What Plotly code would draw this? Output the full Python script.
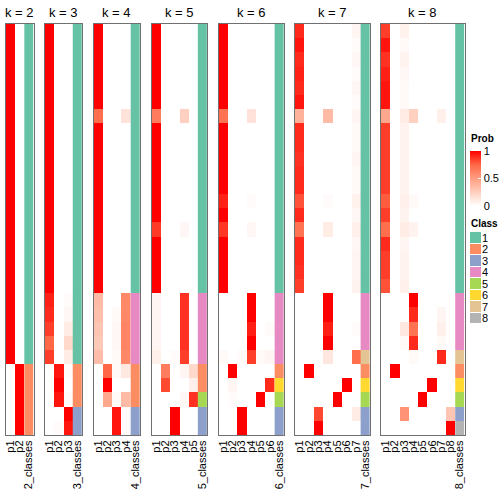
import plotly.graph_objects as go

W = H = 504
ks = [2, 3, 4, 5, 6, 7, 8]

# ---- probability matrices: 29 samples (rows) x k columns ----
prob2 = [
    [1, 0], [1, 0], [1, 0], [1, 0], [1, 0], [1, 0], [1, 0], [1, 0], [1, 0], [1, 0],
    [1, 0], [1, 0], [1, 0], [1, 0], [1, 0], [1, 0], [1, 0], [1, 0], [1, 0], [1, 0],
    [1, 0], [1, 0], [1, 0], [1, 0],
    [0, 1], [0, 1], [0, 1], [0, 1], [0, 1],
]
prob3 = [
    [1, 0, 0], [1, 0, 0], [1, 0, 0], [1, 0, 0], [1, 0, 0], [1, 0, 0], [1, 0, 0],
    [1, 0, 0], [1, 0, 0], [1, 0, 0], [1, 0, 0], [1, 0, 0], [1, 0, 0], [1, 0, 0],
    [1, 0, 0], [1, 0, 0], [1, 0, 0], [1, 0, 0], [1, 0, 0],
    [0.92, 0, 0.02], [0.9, 0, 0.04], [0.85, 0, 0.1], [0.75, 0, 0.2], [0.85, 0, 0.1],
    [0, 0.95, 0.02], [0, 1, 0], [0, 0.95, 0.02],
    [0, 0, 1], [0, 0.02, 0.95],
]
prob4 = [
    [1, 0, 0, 0], [1, 0, 0, 0], [1, 0, 0, 0], [1, 0, 0, 0], [1, 0, 0, 0], [1, 0, 0, 0],
    [0.72, 0, 0, 0.15],
    [1, 0, 0, 0], [1, 0, 0, 0], [1, 0, 0, 0], [1, 0, 0, 0], [1, 0, 0, 0], [1, 0, 0, 0],
    [1, 0, 0, 0], [1, 0, 0, 0], [1, 0, 0, 0], [1, 0, 0, 0], [1, 0, 0, 0], [1, 0, 0, 0],
    [0.35, 0, 0, 0.6], [0.33, 0, 0.03, 0.6], [0.3, 0, 0.04, 0.62], [0.28, 0, 0.04, 0.62],
    [0.34, 0, 0.03, 0.6],
    [0, 0.75, 0.03, 0.12], [0, 1, 0, 0], [0, 0.45, 0.03, 0.35],
    [0, 0, 0.95, 0.02], [0, 0, 0.95, 0.02],
]
prob5 = [
    [1, 0, 0, 0, 0], [1, 0, 0, 0, 0], [1, 0, 0, 0, 0], [1, 0, 0, 0, 0], [1, 0, 0, 0, 0],
    [1, 0, 0, 0, 0], [0.65, 0, 0, 0.25, 0],
    [1, 0, 0, 0, 0], [1, 0, 0, 0, 0], [1, 0, 0, 0, 0], [1, 0, 0, 0, 0], [1, 0, 0, 0, 0],
    [1, 0, 0, 0, 0], [1, 0, 0, 0, 0], [0.86, 0, 0, 0.04, 0],
    [1, 0, 0, 0, 0], [1, 0, 0, 0, 0], [1, 0, 0, 0, 0], [1, 0, 0, 0, 0],
    [0.05, 0, 0, 0.88, 0], [0.05, 0, 0, 0.88, 0], [0.05, 0, 0, 0.88, 0], [0.05, 0, 0, 0.88, 0],
    [0.08, 0, 0.02, 0.85, 0],
    [0, 0.65, 0, 0.05, 0.2], [0, 0.82, 0, 0, 0.08], [0, 0, 0, 0.04, 0.88],
    [0, 0, 1, 0, 0], [0, 0, 1, 0, 0],
]
prob6 = [
    [1, 0, 0, 0, 0, 0], [1, 0, 0, 0, 0, 0], [1, 0, 0, 0, 0, 0], [1, 0, 0, 0, 0, 0],
    [1, 0, 0, 0, 0, 0], [1, 0, 0, 0, 0, 0], [0.7, 0, 0, 0.15, 0, 0],
    [1, 0, 0, 0, 0, 0], [1, 0, 0, 0, 0, 0], [1, 0, 0, 0, 0, 0], [1, 0, 0, 0, 0, 0],
    [1, 0, 0, 0, 0, 0], [0.92, 0, 0, 0.02, 0, 0], [1, 0, 0, 0, 0, 0],
    [0.87, 0, 0, 0.04, 0, 0],
    [1, 0, 0, 0, 0, 0], [1, 0, 0, 0, 0, 0], [1, 0, 0, 0, 0, 0], [1, 0, 0, 0, 0, 0],
    [0, 0, 0, 1, 0, 0], [0, 0, 0, 1, 0, 0], [0, 0, 0, 0.93, 0, 0.02], [0, 0, 0, 1, 0, 0],
    [0.03, 0, 0.02, 0.85, 0.03, 0.05],
    [0, 1, 0, 0, 0, 0], [0, 0.05, 0, 0, 0, 0.9], [0, 0.02, 0, 0, 1, 0],
    [0, 0, 1, 0, 0, 0], [0, 0, 1, 0, 0, 0],
]
prob7 = [
    [0.9, 0, 0, 0, 0, 0, 0.05], [0.95, 0, 0, 0, 0, 0, 0.02], [0.9, 0, 0, 0, 0, 0, 0.04],
    [0.92, 0, 0, 0, 0, 0, 0.02], [0.9, 0, 0, 0, 0, 0, 0.04], [0.95, 0, 0, 0, 0, 0, 0.02],
    [0.4, 0, 0, 0.35, 0, 0, 0.05], [0.9, 0, 0, 0, 0, 0, 0.03], [0.9, 0, 0, 0, 0, 0, 0.03],
    [0.88, 0, 0, 0, 0, 0, 0.05], [0.9, 0, 0, 0, 0, 0, 0.03], [0.9, 0, 0, 0, 0, 0, 0.03],
    [0.8, 0, 0, 0.02, 0, 0, 0.07], [0.9, 0, 0, 0, 0, 0, 0.04], [0.7, 0, 0, 0.1, 0, 0, 0.08],
    [0.9, 0, 0, 0, 0, 0, 0.04], [0.9, 0, 0, 0, 0, 0, 0.05], [0.88, 0, 0, 0, 0, 0, 0.05],
    [0.85, 0, 0, 0, 0, 0, 0.06],
    [0, 0, 0, 1, 0, 0, 0], [0, 0, 0, 1, 0, 0, 0], [0, 0, 0, 0.93, 0, 0, 0.02],
    [0, 0, 0, 1, 0, 0, 0], [0, 0, 0, 0.13, 0, 0, 0.72],
    [0, 1, 0, 0, 0, 0, 0], [0, 0, 0, 0, 0, 1, 0], [0, 0, 0, 0, 1, 0, 0],
    [0, 0, 0.83, 0, 0, 0, 0.1], [0, 0, 1, 0, 0, 0, 0],
]
prob8 = [
    [0.85, 0, 0.07, 0, 0, 0, 0, 0], [0.95, 0, 0.03, 0, 0, 0, 0, 0],
    [0.88, 0, 0.06, 0, 0, 0, 0, 0], [0.92, 0, 0.04, 0, 0, 0, 0, 0],
    [0.95, 0, 0.03, 0, 0, 0, 0, 0], [0.95, 0, 0.03, 0, 0, 0, 0, 0],
    [0.45, 0, 0.1, 0.25, 0, 0, 0.08, 0], [0.85, 0, 0.06, 0, 0, 0, 0, 0],
    [0.85, 0, 0.06, 0, 0, 0, 0, 0], [0.85, 0, 0.06, 0, 0, 0, 0, 0],
    [0.85, 0, 0.06, 0, 0, 0, 0, 0], [0.85, 0, 0.06, 0, 0, 0, 0, 0],
    [0.78, 0, 0.08, 0.03, 0, 0, 0, 0], [0.85, 0, 0.06, 0, 0, 0, 0, 0],
    [0.72, 0, 0.1, 0.06, 0, 0, 0, 0], [0.9, 0, 0.05, 0, 0, 0, 0, 0],
    [0.85, 0, 0.06, 0, 0, 0, 0, 0], [0.85, 0, 0.06, 0, 0, 0, 0, 0],
    [0.8, 0, 0.08, 0, 0, 0, 0, 0],
    [0, 0, 0, 1, 0, 0, 0, 0], [0, 0, 0, 0.9, 0, 0, 0.05, 0],
    [0, 0, 0.12, 0.7, 0, 0, 0.08, 0], [0, 0, 0.03, 0.9, 0, 0, 0.03, 0],
    [0, 0, 0, 0.03, 0, 0, 0.9, 0],
    [0, 1, 0, 0, 0, 0, 0, 0], [0, 0, 0, 0, 0, 1, 0, 0], [0, 0, 0, 0, 1, 0, 0, 0],
    [0, 0, 0.55, 0, 0, 0, 0, 0.3], [0, 0, 0, 0, 0, 0, 0, 1],
]

# ---- class assignment per sample ----
cls2 = [1, 1, 1, 1, 1, 1, 1, 1, 1, 1, 1, 1, 1, 1, 1, 1, 1, 1, 1, 1, 1, 1, 1, 1, 2, 2, 2, 2, 2]
cls3 = [1, 1, 1, 1, 1, 1, 1, 1, 1, 1, 1, 1, 1, 1, 1, 1, 1, 1, 1, 1, 1, 1, 1, 1, 2, 2, 2, 3, 3]
cls4 = [1, 1, 1, 1, 1, 1, 1, 1, 1, 1, 1, 1, 1, 1, 1, 1, 1, 1, 1, 4, 4, 4, 4, 4, 2, 2, 2, 3, 3]
cls5 = [1, 1, 1, 1, 1, 1, 1, 1, 1, 1, 1, 1, 1, 1, 1, 1, 1, 1, 1, 4, 4, 4, 4, 4, 2, 2, 5, 3, 3]
cls6 = [1, 1, 1, 1, 1, 1, 1, 1, 1, 1, 1, 1, 1, 1, 1, 1, 1, 1, 1, 4, 4, 4, 4, 4, 2, 6, 5, 3, 3]
cls7 = [1, 1, 1, 1, 1, 1, 1, 1, 1, 1, 1, 1, 1, 1, 1, 1, 1, 1, 1, 4, 4, 4, 4, 7, 2, 6, 5, 3, 3]
cls8 = [1, 1, 1, 1, 1, 1, 1, 1, 1, 1, 1, 1, 1, 1, 1, 1, 1, 1, 1, 4, 4, 4, 4, 7, 2, 6, 5, 3, 8]

probs = {2: prob2, 3: prob3, 4: prob4, 5: prob5, 6: prob6, 7: prob7, 8: prob8}
classes = {2: cls2, 3: cls3, 4: cls4, 5: cls5, 6: cls6, 7: cls7, 8: cls8}

class_labels = ["1", "2", "3", "4", "5", "6", "7", "8"]
class_colors = ["#66C2A5", "#FC8D62", "#8DA0CB", "#E78AC3",
                "#A6D854", "#FFD92F", "#E5C494", "#B3B3B3"]
prob_ticks = [0, 0.5, 1]
prob_ticktext = ["0", "0.5", "1"]

# ---- styling ----
FONT = "Liberation Sans, Arial, Helvetica, sans-serif"
prob_scale = [[0, "#FFFFFF"], [0.25, "#FFCFBF"], [0.5, "#FF9E81"],
              [0.75, "#FF6746"], [1, "#FF0000"]]
disc_scale = []
for i, c in enumerate(class_colors):
    disc_scale.append([i / 8, c])
    disc_scale.append([(i + 1) / 8, c])

panel_left = [6, 45, 93.5, 152, 218.5, 295, 381]
panel_right = [33.5, 82, 140, 207, 284, 370, 464.5]
TOP, BOTTOM = 24, 435
BORDER = "#707070"

fig = go.Figure()
layout = {}
annotations = []

for idx, k in enumerate(ks):
    suf = "" if idx == 0 else str(idx + 1)
    xa, ya = "x" + suf, "y" + suf
    n = len(classes[k])
    fig.add_trace(go.Heatmap(
        z=probs[k], x0=0, dx=1, y0=0, dy=1,
        colorscale=prob_scale, zmin=0, zmax=1,
        showscale=(idx == 0), xaxis=xa, yaxis=ya, hoverinfo="skip",
        colorbar=dict(
            x=469.5 / W, xanchor="left", y=1 - 151 / H, yanchor="top",
            len=55, lenmode="pixels", thickness=11, thicknessmode="pixels",
            xpad=0, ypad=0, outlinewidth=0,
            tickvals=prob_ticks, ticktext=prob_ticktext,
            ticks="inside", ticklen=3, tickcolor="white",
            tickfont=dict(size=11, family=FONT, color="black"),
        ),
    ))
    fig.add_trace(go.Heatmap(
        z=[[c] for c in classes[k]], x0=k, dx=1, y0=0, dy=1,
        colorscale=disc_scale, zmin=0.5, zmax=8.5, showscale=False,
        xaxis=xa, yaxis=ya, hoverinfo="skip",
    ))
    ticktext = ["p%d" % (i + 1) for i in range(k)] + ["%d_classes" % k]
    layout["xaxis" + suf] = dict(
        domain=[panel_left[idx] / W, panel_right[idx] / W], anchor=ya,
        range=[-0.5, k + 0.5], tickvals=list(range(k + 1)), ticktext=ticktext,
        tickangle=-90, tickfont=dict(size=11, family=FONT, color="black"),
        showgrid=False, zeroline=False, ticks="", automargin=False,
        showline=True, mirror=True, linecolor=BORDER, linewidth=1, fixedrange=True,
    )
    layout["yaxis" + suf] = dict(
        domain=[1 - BOTTOM / H, 1 - TOP / H], anchor=xa,
        range=[n - 0.5, -0.5], showticklabels=False, showgrid=False,
        zeroline=False, ticks="", showline=True, mirror=True, automargin=False,
        linecolor=BORDER, linewidth=1, fixedrange=True,
    )
    annotations.append(dict(
        text="k = %d" % k, x=(panel_left[idx] + panel_right[idx]) / 2 / W,
        y=1 - 12 / H, xref="paper", yref="paper", showarrow=False,
        xanchor="center", yanchor="middle",
        font=dict(size=13, family=FONT, color="black"),
    ))

# ---- class legend as a small heatmap ----
fig.add_trace(go.Heatmap(
    z=[[i + 1] for i in range(8)], x0=0, dx=1, y0=0, dy=1,
    colorscale=disc_scale, zmin=0.5, zmax=8.5, showscale=False,
    xaxis="x8", yaxis="y8", ygap=1, hoverinfo="skip",
))
layout["xaxis8"] = dict(domain=[470 / W, 481 / W], anchor="y8", range=[-0.5, 0.5],
                        visible=False, fixedrange=True)
layout["yaxis8"] = dict(domain=[1 - 324 / H, 1 - 232 / H], anchor="x8", side="right",
                        range=[7.5, -0.5], tickvals=list(range(8)), ticktext=class_labels,
                        ticks="", showgrid=False, zeroline=False, showline=False,
                        automargin=False,
                        tickfont=dict(size=11, family=FONT, color="black"), fixedrange=True)

annotations.append(dict(text="<b>Prob</b>", x=469 / W, y=1 - 138 / H, xref="paper",
                        yref="paper", showarrow=False, xanchor="left", yanchor="middle",
                        font=dict(size=10, family=FONT, color="black")))
annotations.append(dict(text="<b>Class</b>", x=469 / W, y=1 - 223 / H, xref="paper",
                        yref="paper", showarrow=False, xanchor="left", yanchor="middle",
                        font=dict(size=10, family=FONT, color="black")))

fig.update_layout(
    width=W, height=H, margin=dict(l=0, r=0, t=0, b=0, autoexpand=False),
    paper_bgcolor="white", plot_bgcolor="white", showlegend=False,
    annotations=annotations, font=dict(family=FONT, color="black"),
    **layout,
)

fig.write_html("out.html", config={"displayModeBar": False},
               post_script="document.body.style.margin='0';document.body.style.overflow='hidden';")
